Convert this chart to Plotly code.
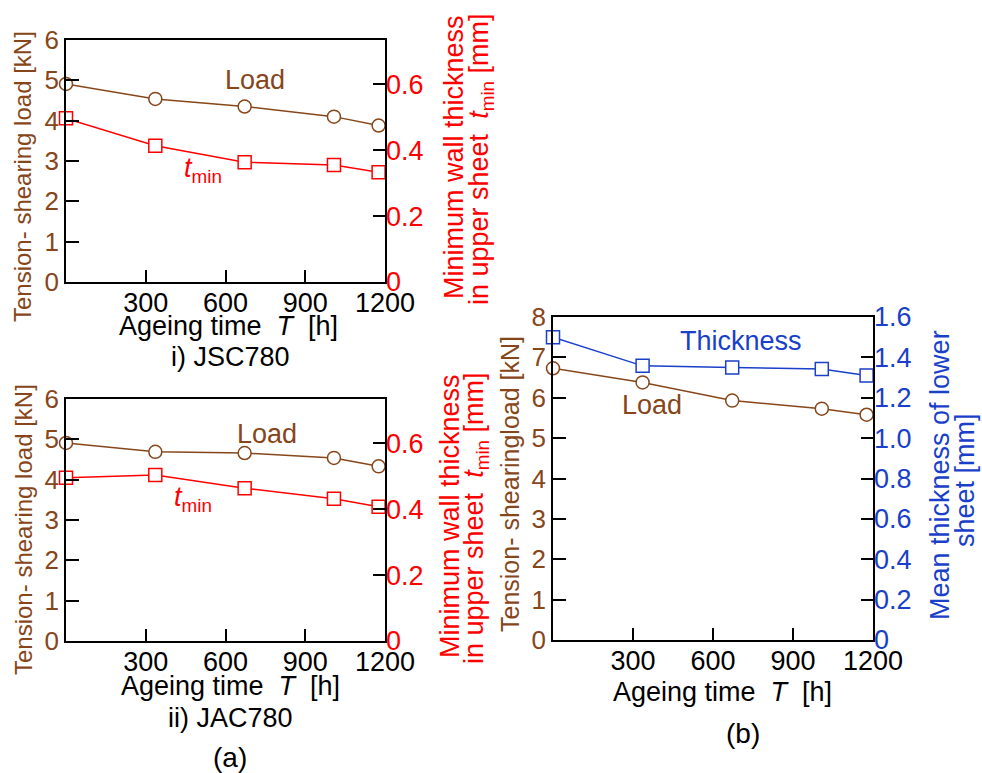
import plotly.graph_objects as go

# ---------------- data ----------------
hours = [0, 336, 672, 1008, 1176]
jsc_load = [4.91, 4.54, 4.35, 4.10, 3.88]
jsc_tmin = [0.497, 0.414, 0.364, 0.355, 0.333]
jac_load = [4.91, 4.69, 4.66, 4.54, 4.33]
jac_tmin = [0.496, 0.504, 0.464, 0.432, 0.408]
b_load = [6.73, 6.38, 5.93, 5.73, 5.58]
b_thick = [1.50, 1.358, 1.35, 1.342, 1.31]

x_ticks = [300, 600, 900, 1200]
load_ticks_a = [0, 1, 2, 3, 4, 5, 6]
load_ticks_b = [0, 1, 2, 3, 4, 5, 6, 7, 8]
tmin_ticks = [0, 0.2, 0.4, 0.6]
tmin_ticktext = ["0", "0.2", "0.4", "0.6"]
thick_ticks = [0, 0.2, 0.4, 0.6, 0.8, 1.0, 1.2, 1.4, 1.6]
thick_ticktext = ["0", "0.2", "0.4", "0.6", "0.8", "1.0", "1.2", "1.4", "1.6"]

BROWN = "#87461a"
RED = "#ff0000"
BLUE = "#1a3fc8"
FONT = "Liberation Sans, Arial, sans-serif"
W, H = 982, 773


def dx(a, b):
    return [a / W, b / W]


def dy(top, bottom):
    return [1 - bottom / H, 1 - top / H]


def px(x, y):
    return x / W, 1 - y / H


fig = go.Figure()


def add_series(xa, ya, yvals, color, symbol):
    fig.add_trace(go.Scatter(
        x=hours, y=yvals, xaxis=xa, yaxis=ya, mode="lines+markers",
        line=dict(color=color, width=1.5),
        marker=dict(symbol=symbol, size=13, color="white",
                    line=dict(color=color, width=1.5)),
        cliponaxis=False, showlegend=False, hoverinfo="skip"))


add_series("x", "y", jsc_load, BROWN, "circle")
add_series("x", "y2", jsc_tmin, RED, "square")
add_series("x2", "y3", jac_load, BROWN, "circle")
add_series("x2", "y4", jac_tmin, RED, "square")
add_series("x3", "y5", b_load, BROWN, "circle")
add_series("x3", "y6", b_thick, BLUE, "square")

common_x = dict(range=[0, 1200], tickvals=x_ticks, ticks="inside", ticklen=12,
                tickwidth=1.5, tickcolor="black", showline=True, linecolor="black",
                linewidth=1.5, mirror=True, showgrid=False, zeroline=False,
                automargin=False, ticklabelstandoff=-4,
                tickfont=dict(family=FONT, size=27, color="black"))


def left_y(rng, tv, domain, anchor):
    return dict(range=rng, tickvals=tv, ticks="inside", ticklen=13, tickwidth=1.5,
                tickcolor="black", showline=True, linecolor="black", linewidth=1.5,
                mirror=True, showgrid=False, zeroline=False, domain=domain,
                anchor=anchor, automargin=False,
                tickfont=dict(family=FONT, size=26, color=BROWN))


def right_y(rng, tv, tt, over, anchor, color):
    return dict(range=rng, tickvals=tv, ticktext=tt, ticks="inside", ticklen=12,
                tickwidth=1.5, tickcolor="black", showline=False, showgrid=False,
                zeroline=False, overlaying=over, side="right", anchor=anchor,
                automargin=False,
                tickfont=dict(family=FONT, size=27, color=color))


fig.update_layout(
    width=W, height=H, margin=dict(l=0, r=0, t=0, b=0, autoexpand=False),
    paper_bgcolor="white", plot_bgcolor="white",
    font=dict(family=FONT),
    xaxis=dict(common_x, domain=dx(66, 385), anchor="y"),
    yaxis=left_y([0, 6], load_ticks_a, dy(40, 282), "x"),
    yaxis2=right_y([0, 0.735], tmin_ticks, tmin_ticktext, "y", "x", RED),
    xaxis2=dict(common_x, domain=dx(66, 385), anchor="y3"),
    yaxis3=left_y([0, 6], load_ticks_a, dy(399, 641), "x2"),
    yaxis4=right_y([0, 0.735], tmin_ticks, tmin_ticktext, "y3", "x2", RED),
    xaxis3=dict(common_x, domain=dx(553, 873), anchor="y5"),
    yaxis5=left_y([0, 8], load_ticks_b, dy(317, 640), "x3"),
    yaxis6=right_y([0, 1.6], thick_ticks, thick_ticktext, "y5", "x3", BLUE),
)

ann = []


def text(x, y, s, color="black", size=27, angle=0):
    ax, ay = px(x, y)
    ann.append(dict(x=ax, y=ay, xref="paper", yref="paper", text=s, showarrow=False,
                    font=dict(family=FONT, size=size, color=color), textangle=angle,
                    xanchor="center", yanchor="middle"))


TMIN = "<i>t</i><sub>min</sub>"
AGE = "Ageing time  <i>T</i>  [h]"

# panel i
text(23, 177, "Tension- shearing load [kN]", BROWN, 24, -90)
text(454, 157, "Minimum wall thickness", RED, 27, -90)
text(481, 159, "in upper sheet  " + TMIN + " [mm]", RED, 27, -90)
text(255, 80, "Load", BROWN, 27)
text(203, 170, TMIN, RED, 27)
text(228, 326, AGE, "black", 27)
text(230, 357, "i) JSC780", "black", 27)

# panel ii
text(23, 530, "Tension- shearing load [kN]", BROWN, 24, -90)
text(450, 516, "Minimum wall thickness", RED, 27, -90)
text(476, 518, "in upper sheet  " + TMIN + " [mm]", RED, 27, -90)
text(267, 434, "Load", BROWN, 27)
text(193, 499, TMIN, RED, 27)
text(230, 686, AGE, "black", 27)
text(230, 718, "ii) JAC780", "black", 27)
text(230, 757, "(a)", "black", 28)

# panel b
text(510, 484, "Tension- shearingload [kN]", BROWN, 25, -90)
text(940, 475, "Mean thickness of lower", BLUE, 27, -90)
text(965, 480, "sheet [mm]", BLUE, 27, -90)
text(741, 341, "Thickness", BLUE, 27)
text(652, 405, "Load", BROWN, 27)
text(722, 692, AGE, "black", 27)
text(743, 733, "(b)", "black", 28)

fig.update_layout(annotations=ann)
fig.write_html("out.html", config={"displayModeBar": False},
               post_script="document.body.style.margin='0px';document.body.style.padding='0px';")
